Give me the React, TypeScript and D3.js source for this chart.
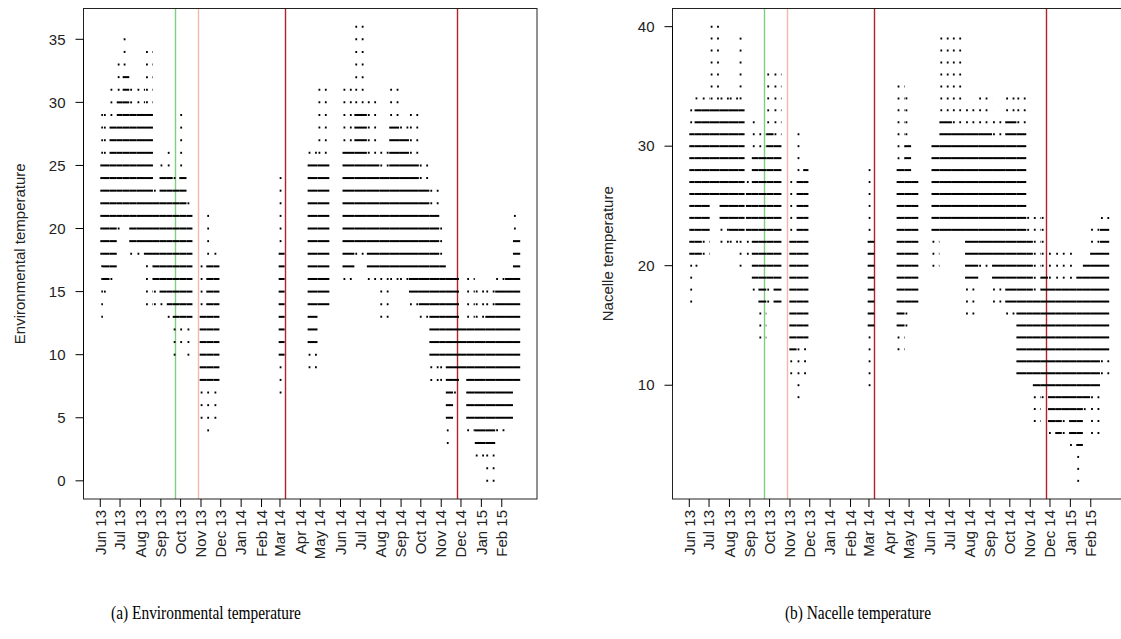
import React from "react";
import * as d3 from "d3";

// [start, end, min level, dense-from level, dense-to level, max level]
type Block = [string, string, number, number, number, number];

const tickLabels = [
  "Jun 13", "Jul 13", "Aug 13", "Sep 13", "Oct 13", "Nov 13", "Dec 13",
  "Jan 14", "Feb 14", "Mar 14", "Apr 14", "May 14", "Jun 14", "Jul 14",
  "Aug 14", "Sep 14", "Oct 14", "Nov 14", "Dec 14", "Jan 15", "Feb 15",
];

const dataStart = "2013-06-01";
const dataEnd = "2015-03-01";

const eventDates = ["2013-09-22", "2013-10-28", "2014-03-08", "2014-11-25"];
const eventColors = ["#7fcf7f", "#f2b8ad", "#b3202c", "#b3202c"];

const envTicks = [0, 5, 10, 15, 20, 25, 30, 35];
const nacTicks = [10, 20, 30, 40];

const envBlocks: Block[] = [
  ["2013-06-01", "2013-06-05", 13, 18, 25, 29],
  ["2013-06-05", "2013-06-15", 15, 16, 25, 29],
  ["2013-06-15", "2013-06-26", 16, 17, 28, 31],
  ["2013-06-26", "2013-07-05", 20, 21, 30, 33],
  ["2013-07-05", "2013-07-15", 21, 21, 32, 35],
  ["2013-07-15", "2013-07-26", 18, 19, 29, 31],
  ["2013-07-26", "2013-08-08", 18, 19, 29, 31],
  ["2013-08-08", "2013-08-20", 14, 18, 29, 34],
  ["2013-08-20", "2013-08-30", 14, 16, 22, 23],
  ["2013-08-30", "2013-09-10", 14, 15, 24, 25],
  ["2013-09-10", "2013-09-19", 13, 14, 24, 26],
  ["2013-09-19", "2013-09-29", 10, 13, 23, 24],
  ["2013-09-29", "2013-10-10", 11, 13, 24, 29],
  ["2013-10-10", "2013-10-19", 10, 13, 21, 22],
  ["2013-10-30", "2013-11-09", 5, 8, 13, 17],
  ["2013-11-09", "2013-11-20", 4, 8, 17, 21],
  ["2013-11-20", "2013-11-29", 5, 8, 17, 18],
  ["2014-02-27", "2014-03-08", 7, 10, 18, 24],
  ["2014-04-12", "2014-04-27", 9, 11, 25, 26],
  ["2014-04-27", "2014-05-15", 14, 14, 25, 31],
  ["2014-06-04", "2014-06-22", 16, 17, 26, 31],
  ["2014-06-22", "2014-07-11", 18, 19, 29, 36],
  ["2014-07-11", "2014-07-30", 16, 17, 25, 30],
  ["2014-07-30", "2014-08-14", 13, 17, 24, 26],
  ["2014-08-14", "2014-08-29", 16, 17, 28, 31],
  ["2014-08-29", "2014-09-13", 16, 17, 27, 28],
  ["2014-09-13", "2014-09-28", 14, 15, 25, 29],
  ["2014-09-28", "2014-10-14", 13, 14, 23, 25],
  ["2014-10-14", "2014-10-29", 8, 10, 21, 23],
  ["2014-10-29", "2014-11-08", 8, 10, 17, 20],
  ["2014-11-08", "2014-11-19", 3, 5, 16, 16],
  ["2014-11-19", "2014-11-28", 7, 8, 16, 16],
  ["2014-11-28", "2014-12-09", 9, 9, 12, 12],
  ["2014-12-09", "2014-12-22", 4, 5, 12, 16],
  ["2014-12-22", "2015-01-07", 2, 3, 12, 15],
  ["2015-01-07", "2015-01-22", 0, 3, 13, 15],
  ["2015-01-22", "2015-02-06", 4, 5, 15, 16],
  ["2015-02-06", "2015-02-18", 5, 5, 16, 16],
  ["2015-02-18", "2015-03-01", 8, 8, 19, 21],
];

const nacBlocks: Block[] = [
  ["2013-06-01", "2013-06-09", 17, 21, 31, 33],
  ["2013-06-09", "2013-06-20", 20, 21, 33, 34],
  ["2013-06-20", "2013-07-02", 21, 23, 33, 34],
  ["2013-07-02", "2013-07-17", 26, 26, 33, 40],
  ["2013-07-17", "2013-07-31", 22, 24, 33, 34],
  ["2013-07-31", "2013-08-15", 22, 23, 33, 34],
  ["2013-08-15", "2013-08-24", 20, 23, 33, 39],
  ["2013-08-26", "2013-09-04", 21, 23, 26, 27],
  ["2013-09-04", "2013-09-14", 18, 19, 29, 32],
  ["2013-09-14", "2013-09-26", 14, 17, 29, 31],
  ["2013-09-26", "2013-10-07", 17, 19, 31, 36],
  ["2013-10-07", "2013-10-19", 17, 17, 30, 36],
  ["2013-10-31", "2013-11-11", 11, 13, 22, 27],
  ["2013-11-11", "2013-11-21", 9, 14, 27, 31],
  ["2013-11-21", "2013-11-29", 11, 14, 28, 28],
  ["2014-02-27", "2014-03-09", 10, 15, 22, 28],
  ["2014-04-12", "2014-04-24", 13, 15, 28, 35],
  ["2014-04-24", "2014-05-04", 15, 17, 30, 34],
  ["2014-05-04", "2014-05-15", 17, 17, 27, 27],
  ["2014-06-04", "2014-06-16", 20, 23, 30, 30],
  ["2014-06-16", "2014-07-05", 23, 23, 32, 39],
  ["2014-07-05", "2014-07-25", 23, 23, 31, 39],
  ["2014-07-25", "2014-08-14", 16, 19, 31, 33],
  ["2014-08-14", "2014-09-04", 20, 21, 31, 34],
  ["2014-09-04", "2014-09-24", 17, 19, 30, 32],
  ["2014-09-24", "2014-10-11", 16, 17, 32, 34],
  ["2014-10-11", "2014-10-26", 11, 11, 31, 34],
  ["2014-10-26", "2014-11-05", 11, 11, 22, 24],
  ["2014-11-05", "2014-11-17", 7, 10, 17, 24],
  ["2014-11-17", "2014-11-28", 9, 10, 19, 24],
  ["2014-11-28", "2014-12-09", 6, 7, 18, 21],
  ["2014-12-09", "2014-12-19", 6, 6, 18, 21],
  ["2014-12-19", "2014-12-30", 6, 8, 18, 21],
  ["2014-12-30", "2015-01-10", 5, 6, 18, 21],
  ["2015-01-10", "2015-01-20", 2, 5, 19, 19],
  ["2015-01-20", "2015-01-31", 8, 9, 20, 20],
  ["2015-01-31", "2015-02-15", 6, 10, 21, 23],
  ["2015-02-15", "2015-03-01", 11, 13, 23, 24],
];

const parseDay = d3.utcParse("%Y-%m-%d");
const parseTick = d3.utcParse("%b %y");

const AXIS_FONT = "'Liberation Sans', Arial, sans-serif";
const CAPTION_FONT = "'Liberation Serif', 'Times New Roman', serif";

interface PanelProps {
  blocks: Block[];
  yTicks: number[];
  yLabel: string;
  left: number;
  labelX: number;
}

const TOP = 8.5;
const BOTTOM = 499;
const PANEL_W = 453.5;

function Panel({ blocks, yTicks, yLabel, left, labelX }: PanelProps) {
  const t0 = parseDay(dataStart)!.getTime();
  const t1 = parseDay(dataEnd)!.getTime();
  const padT = (t1 - t0) * 0.04;
  const x = d3
    .scaleUtc()
    .domain([new Date(t0 - padT), new Date(t1 + padT)])
    .range([left, left + PANEL_W]);

  const vMin = d3.min(blocks, (b) => b[2])!;
  const vMax = d3.max(blocks, (b) => b[5])!;
  const padV = (vMax - vMin) * 0.04;
  const y = d3.scaleLinear().domain([vMin - padV, vMax + padV]).range([BOTTOM, TOP]);

  const tickDates = tickLabels.map((l) => parseTick(l)!);

  const marks: React.ReactNode[] = [];
  blocks.forEach((b, i) => {
    const xa = x(parseDay(b[0])!);
    const xb = x(parseDay(b[1])!);
    for (let v = b[2]; v <= b[5]; v++) {
      const yy = y(v);
      if (v >= b[3] && v <= b[4]) {
        marks.push(
          <rect key={`${i}-${v}`} x={xa} y={yy - 1} width={xb - xa} height={2} fill="#000" />
        );
      } else {
        marks.push(
          <line
            key={`${i}-${v}`}
            x1={xa + 1}
            x2={xb}
            y1={yy}
            y2={yy}
            stroke="#000"
            strokeWidth={2}
            strokeDasharray="1.8 4.6"
          />
        );
      }
    }
  });

  return (
    <g>
      {eventDates.map((d, i) => {
        const xx = Math.round(x(parseDay(d)!)) + 0.5;
        return (
          <line key={d} x1={xx} x2={xx} y1={TOP} y2={BOTTOM} stroke={eventColors[i]} strokeWidth={1.4} />
        );
      })}
      {marks}
      <rect x={left} y={TOP} width={PANEL_W} height={BOTTOM - TOP} fill="none" stroke="#222" strokeWidth={1} />
      <line x1={left} x2={left} y1={y(yTicks[0])} y2={y(yTicks[yTicks.length - 1])} stroke="#000" />
      {yTicks.map((t) => (
        <g key={t}>
          <line x1={left - 8} x2={left} y1={y(t)} y2={y(t)} stroke="#000" />
          <text
            x={left - 18}
            y={y(t)}
            dy="0.35em"
            textAnchor="end"
            fontFamily={AXIS_FONT}
            fontSize={15}
            fill="#222"
          >
            {t}
          </text>
        </g>
      ))}
      {tickDates.map((d, i) => {
        const xx = x(d);
        return (
          <g key={tickLabels[i]}>
            <line x1={xx} x2={xx} y1={BOTTOM} y2={BOTTOM + 8} stroke="#000" />
            <text
              transform={`translate(${xx},${BOTTOM + 11}) rotate(-90)`}
              dy="0.35em"
              textAnchor="end"
              fontFamily={AXIS_FONT}
              fontSize={15}
              fill="#222"
            >
              {tickLabels[i]}
            </text>
          </g>
        );
      })}
      <text
        transform={`translate(${labelX},${(TOP + BOTTOM) / 2}) rotate(-90)`}
        textAnchor="middle"
        fontFamily={AXIS_FONT}
        fontSize={15}
        fill="#222"
      >
        {yLabel}
      </text>
    </g>
  );
}

export default function App() {
  return (
    <svg
      width={1121}
      height={639}
      style={{ position: "absolute", left: 0, top: 0, background: "#fff" }}
    >
      <rect x={0} y={0} width={1121} height={639} fill="#fff" />
      <Panel blocks={envBlocks} yTicks={envTicks} yLabel="Environmental temperature" left={83.5} labelX={24.5} />
      <Panel blocks={nacBlocks} yTicks={nacTicks} yLabel="Nacelle temperature" left={672.5} labelX={613} />
      <g transform="translate(206,619) scale(0.79,1)">
        <text x={0} y={0} textAnchor="middle" fontFamily={CAPTION_FONT} fontSize={19.5} fill="#000">
          (a) Environmental temperature
        </text>
      </g>
      <g transform="translate(858,619) scale(0.79,1)">
        <text x={0} y={0} textAnchor="middle" fontFamily={CAPTION_FONT} fontSize={19.5} fill="#000">
          (b) Nacelle temperature
        </text>
      </g>
    </svg>
  );
}
